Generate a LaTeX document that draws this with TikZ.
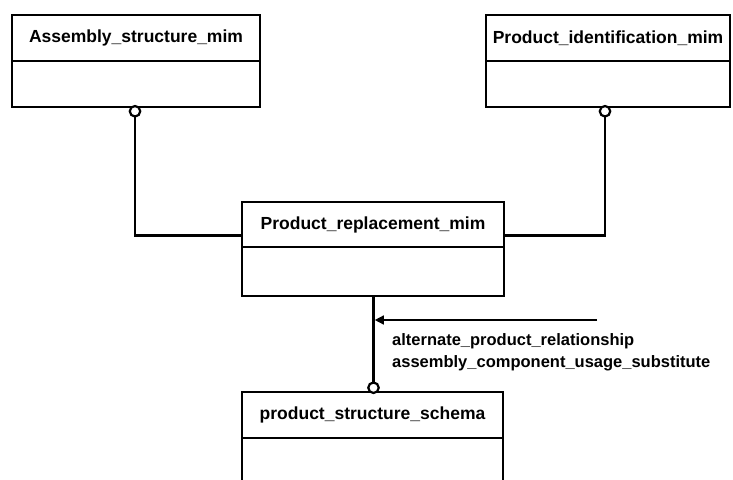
\documentclass[tikz,border=0pt]{standalone}
\usepackage{fontspec}
\setmainfont{Liberation Sans}
\usetikzlibrary{arrows.meta, positioning, calc}

\begin{document}
\begin{tikzpicture}[
  x=1pt, y=-1pt,
  every node/.style={font=\fontsize{17.5}{20}\selectfont\bfseries},
  entity/.style={rectangle, draw, line width=2.6pt, inner sep=0pt, outer sep=0pt, anchor=north west},
  body/.style={rectangle, draw, line width=2.6pt, inner sep=0pt, outer sep=0pt, anchor=north},
  link/.style={line width=2.6pt},
  ring/.style={circle, draw, line width=2.2pt, fill=white, minimum size=10.5pt, inner sep=0pt},
]
\useasboundingbox (0,0) rectangle (733,479);
\clip (0,0) rectangle (733,479);

% Entity boxes
\node[entity, minimum width=248pt, minimum height=46pt] (asm) at (12,15) {Assembly\_structure\_mim};
\node[body, minimum width=248pt, minimum height=46pt] (asmb) at (asm.south) {};
\node[entity, minimum width=244pt, minimum height=46pt] (pid) at (486,15) {Product\_identification\_mim};
\node[body, minimum width=244pt, minimum height=46pt] (pidb) at (pid.south) {};
\node[entity, minimum width=262pt, minimum height=45pt] (prm) at (242,202) {Product\_replacement\_mim};
\node[body, minimum width=262pt, minimum height=49pt] (prmb) at (prm.south) {};
\node[entity, minimum width=261pt, minimum height=46pt] (pss) at (242,392) {product\_structure\_schema};
\node[body, minimum width=261pt, minimum height=70pt] (pssb) at (pss.south) {};

% Rings
\node[ring, anchor=north, outer sep=0pt] (ra) at ([xshift=-1pt, yshift=1pt]asmb.south) {};
\node[ring, anchor=north, outer sep=0pt] (rp) at ([xshift=-3pt, yshift=1pt]pidb.south) {};
\node[ring, anchor=south, outer sep=0pt] (rs) at ([xshift=1pt, yshift=-1pt]pss.north) {};

% Connectors
\coordinate (ja) at ([yshift=-11pt]prm.west);
\coordinate (jp) at ([yshift=-11pt]prm.east);
\draw[link] (ra.south) |- (ja);
\draw[link] (rp.south) |- (jp);
\draw[link] (prmb.south -| rs.north) -- (rs.north);

% Mapping arrow
\coordinate (src) at (597,320);
\draw[line width=1.4pt, -{Triangle[length=9pt, width=9pt]}] (src) -- ([xshift=1.3pt]src -| rs.north);
\node[anchor=north west, align=left, inner sep=0pt, font=\fontsize{16.5}{22.5}\selectfont\bfseries] (lbl) at (392,333) {alternate\_product\_relationship\\assembly\_component\_usage\_substitute};
\end{tikzpicture}
\end{document}
